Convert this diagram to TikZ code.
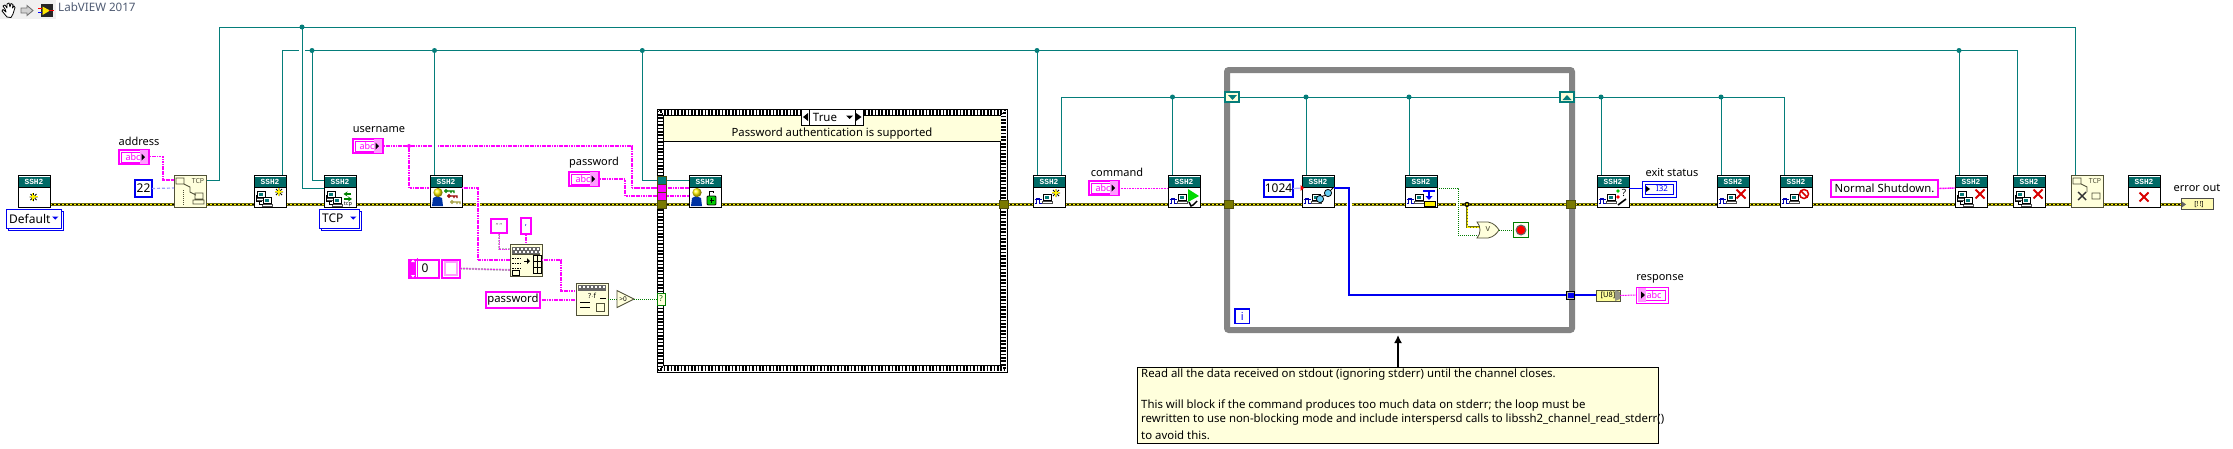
\documentclass[tikz,border=0pt]{standalone}
\usepackage{fontspec}
\setmainfont{Noto Sans}
\newfontfamily\hdrfont{Liberation Mono}
\usetikzlibrary{calc,arrows.meta}
\definecolor{wteal}{HTML}{057D7A}
\definecolor{hteal}{HTML}{006A66}
\definecolor{cream}{HTML}{FFFFDC}
\definecolor{oliv}{HTML}{6E6E10}
\definecolor{tunol}{HTML}{7A7A00}
\definecolor{vbord}{HTML}{505038}
\definecolor{loopg}{HTML}{848484}
\definecolor{mag}{HTML}{FF00FF}
\definecolor{lmag}{HTML}{FF9CFF}
\definecolor{gwire}{HTML}{007D00}
\definecolor{cblue}{HTML}{0000F0}
\definecolor{titlec}{HTML}{4F5B73}
\tikzset{
 tw/.style={draw=wteal,line width=1pt},
 sw/.style={draw=mag,line width=1.4pt,dash pattern=on 1.2pt off .5pt},
 thinsw/.style={draw=mag,line width=1pt,dash pattern=on 1pt off .6pt},
 gw/.style={draw=gwire,line width=.9pt,dash pattern=on 1pt off 1pt},
 bw/.style={draw=cblue,line width=2.2pt},
 errw/.style={draw=oliv,line width=3.6pt,
   postaction={draw=yellow,line width=1.7pt,dash pattern=on 2pt off 2pt,solid},
   postaction={draw=black,line width=1.7pt,dash pattern=on 2pt off 2pt,dash phase=2pt}},
 vibox/.style={draw=black,line width=.9pt,fill=white,minimum width=32pt,minimum height=32pt,inner sep=0,outer sep=0},
 ylbox/.style={draw=vbord,line width=.9pt,fill=cream,minimum width=32pt,minimum height=32pt,inner sep=0,outer sep=0},
 lbl/.style={inner sep=0,font=\fontsize{11}{13}\selectfont,text=black},
 hdr/.style={inner sep=0,text=white,font=\hdrfont\bfseries\fontsize{7.8}{8}\selectfont},
 strbox/.style={draw=mag,line width=2pt,fill=white,inner sep=0,outer sep=0},
 numbox/.style={draw=cblue,line width=2pt,fill=white,inner sep=0,outer sep=0,font=\fontsize{12}{14}\selectfont},
 tun/.style={inner sep=0,outer sep=0,minimum width=9pt,minimum height=8.5pt,draw=oliv!70!black,line width=.5pt},
}
\newcommand\icComp[2]{%
 \fill[white] (#1,#2) rectangle ++(8,6);
 \draw[black,line width=.7pt] (#1,#2) rectangle ++(8,6);
 \fill[wteal] (#1+2,#2+1.5) rectangle ++(4,3);
 \draw[black!70,line width=.7pt] (#1-1,#2+7) rectangle ++(10,2);
}
\newcommand\icNet{\icComp{3}{15}\icComp{9}{21}\draw[black,line width=.6pt] (2,19)--(2,25)--(8,25)(5,25)--(5,28)--(9,28);}
\newcommand\icChan{\draw[blue!70!black,line width=.9pt] (1.5,27)--(3,27)--(3,22)--(6,22)--(6,27)--(9,27)(1.5,23.5)--(9,23.5);
 \icComp{10}{18}}
\newcommand\icStar[2]{\draw[black,line width=.8pt] (#1-4,#2)--(#1+4,#2)(#1,#2-4)--(#1,#2+4)(#1-3,#2-3)--(#1+3,#2+3)(#1-3,#2+3)--(#1+3,#2-3);
 \fill[yellow] (#1,#2) circle (2pt);\draw[yellow,line width=.8pt] (#1-4,#2-1)--(#1+4,#2-1)(#1-1,#2-4)--(#1-1,#2+4);}
\newcommand\icPerson{\fill[blue!55!black!80!cyan] (2,30)--(3,22)--(7,20)--(12,22)--(13,30)--cycle;
 \shade[ball color=yellow!90!orange] (8,16.5) circle (4.6pt);}
\newcommand\icKey[3]{\draw[#3,line width=1.1pt] (#1,#2) circle (1.3pt) (#1+1.5,#2)--(#1+8,#2)--(#1+8,#2+2)(#1+5,#2)--(#1+5,#2+2);}
\newcommand\icRedX[2]{\draw[red!85!black,line width=2pt] (#1-4.5,#2-4.5)--(#1+4.5,#2+4.5)(#1-4.5,#2+4.5)--(#1+4.5,#2-4.5);}
\newcommand\sshvi[3]{%
 \node[vibox] (#1) at (#2+16,191.5) {};
 \fill[hteal] (#2+.5,176.5) rectangle (#2+31.5,187);
 \node[hdr] (#1-h) at (#2+16,181.7) {SSH2};
 \draw[black,line width=.9pt] (#2,187) -- (#2+32,187);
 \begin{scope}[shift={(#2,176)}]#3\end{scope}}
\newcommand\strctl[4]{%
 \node[strbox,minimum width=30pt,minimum height=14pt] (#1) at (#2+16,#3+8) {};
 \draw[mag,line width=.9pt] (#2+3,#3+3) rectangle (#2+29,#3+13);
 \fill[lmag] (#2+22,#3+1) rectangle (#2+30,#3+15);
 \node[inner sep=0,text=mag,font=\fontsize{9}{9}\selectfont\bfseries] at (#2+15,#3+8) {abc};
 \fill[black] (#2+27,#3+8) -- (#2+23.5,#3+4.5) -- (#2+23.5,#3+11.5) -- cycle;}
\newcommand\strind[3]{%
 \node[draw=mag,line width=1pt,fill=white,inner sep=0,outer sep=0,minimum width=32pt,minimum height=16pt] (#1) at (#2+16,#3+8) {};
 \draw[mag,line width=.8pt] (#2+3,#3+3) rectangle (#2+29,#3+13);
 \fill[lmag] (#2+2,#3+1) rectangle (#2+10,#3+15);
 \node[inner sep=0,text=mag,font=\fontsize{9}{9}\selectfont\bfseries] at (#2+18,#3+8) {abc};
 \fill[black] (#2+9,#3+8) -- (#2+5,#3+4.5) -- (#2+5,#3+11.5) -- cycle;}
\newcommand\enumctl[6]{%
 \draw[cblue,line width=1pt,fill=white] (#2+2,#3+2) rectangle (#4+2,#5+2);
 \node[draw=cblue,line width=1pt,fill=white,inner sep=0,outer sep=0,minimum width=#4pt-#2pt,minimum height=#5pt-#3pt,anchor=north west] (#1) at (#2,#3) {};
 \node[inner sep=0,anchor=west,font=\fontsize{12}{14}\selectfont] at (#2+3,#3+9.5) {#6};
 \fill[cblue] (#4-9,#3+7.5) -- (#4-2.5,#3+7.5) -- (#4-5.75,#3+10.5) -- cycle;}
\newcommand\errseg[2]{\draw[errw] (#1 |- ey) -- (#2 |- ey);}
\newcommand\chk[1]{%
 \foreach \d/\p in {1.5/0,3.2/1.7,4.9/0}{%
 \draw[black,line width=1.7pt,dash pattern=on 1.7pt off 1.7pt,dash phase=\p pt]
   ($(#1.north west)+(\d,\d)$) rectangle ($(#1.south east)+(-\d,-\d)$);}}
\begin{document}
\begin{tikzpicture}[x=1pt,y=-1pt]
\useasboundingbox (0,0) rectangle (2233,448);
\fill[white] (0,0) rectangle (2233,448);
\coordinate (ey) at (0,204.4);
%% toolbar
\fill[black!6] (0,0) rectangle (56,19);
\draw[black,line width=.8pt,fill=white,line join=round] (5,9)--(3,6)--(5,5)--(7,8)--(7,4)--(9,3)--(10,7)--(11,3.5)--(13,4.5)--(12.5,8)--(14,6)--(15,7.5)--(13,14)--(11,17.5)--(7,17)--(2,11)--(3,9.5)--(6,12)--cycle;
\draw[black!55,line width=.9pt,fill=black!18] (21,8)--(27,8)--(27,5.5)--(33,10.5)--(27,15.5)--(27,13)--(21,13)--cycle;
\fill[black!85] (41,4) rectangle (53,17);
\fill[yellow!90!orange] (42.5,6.5)--(50,10.5)--(42.5,15)--cycle;
\draw[red,line width=1pt] (38,8)--(42,8)(49,10)--(54,10);
\draw[blue,line width=1pt] (38,12)--(42,12);
\node[inner sep=0,anchor=west,text=titlec,font=\bfseries\fontsize{11.6}{12}\selectfont] (title) at (58,7.5) {LabVIEW 2017};
%% bus coordinates
\coordinate (a0) at (219.5,27);
\coordinate (a1) at (302,27);
\coordinate (a2) at (2075,27);
\coordinate (b0) at (282.5,50.5);
\coordinate (b1) at (312,50.5);
\coordinate (b2) at (434.5,50.5);
\coordinate (b3) at (642.3,50.5);
\coordinate (b4) at (1037,50.5);
\coordinate (b5) at (1959,50.5);
\coordinate (b6) at (2017,50.5);
\coordinate (c0) at (1061,97);
\coordinate (c1) at (1172.5,97);
\coordinate (c2) at (1306,97);
\coordinate (c3) at (1409,97);
\coordinate (c4) at (1601,97);
\coordinate (c5) at (1721,97);
\coordinate (c6) at (1784,97);
\coordinate (mj) at (409,146);
\coordinate (mr) at (632,146);
\coordinate (pw1) at (625,179);
\coordinate (p-tcpo) at (206,180.5);
%% teal wires
\draw[tw] (p-tcpo) -- (a0 |- p-tcpo) -- (a0) -- (a2) -- (2075,176);
\draw[tw] (282.5,176) -- (b0) -- (b6) -- (2017,176);
\draw[white,line width=3pt] (299,50.5) -- (305,50.5);
\draw[tw] (a1) -- (302,188) -- (324,188);
\draw[tw] (b1) -- (312,180.5) -- (324,180.5);
\draw[tw] (b3) -- (642.3,180) -- (689,180);
\draw[tw] (b4) -- (1037,176);
\draw[tw] (b5) -- (1959,176);
\draw[tw] (1061,176) -- (c0) -- (c6) -- (1784,176);
\foreach \c in {c1,c2,c3,c4,c5}{\draw[tw] (\c) -- (\c |- 0,176);}
\foreach \c in {a1,b1,b2,b3,b4,b5,c1,c2,c3,c4,c5}{\fill[wteal] (\c) circle (2.5pt);}
%% username wires
\draw[sw] (mj) -- (mr) -- (632,188) -- (689,188);
\draw[white,line width=3pt] (432,146) -- (437,146);
\draw[tw] (b2) -- (434.5,176);
\draw[sw] (mj) -- (409,188) -- (430,188);
\fill[mag] (mj) circle (2pt);
%% case structure
\node[draw=black,line width=1pt,fill=white,inner sep=0,outer sep=0,minimum width=350pt,minimum height=263pt,anchor=north west] (case) at (657,109) {};
\chk{case}
\fill[white] (663.5,115.5) rectangle (1000.5,365.5);
\draw[black,line width=.8pt] (663.5,115.5) rectangle (1000.5,365.5);
\fill[cream] (663.5,115.5) rectangle (1000.5,141.5);
\draw[black,line width=1pt] (663.5,141.5) -- (1000.5,141.5);
\node[inner sep=0,font=\fontsize{11.3}{14}\selectfont] (caselabel) at (832,134) {Password authentication is supported};
\node[draw=black,line width=1pt,fill=white,inner sep=0,outer sep=0,minimum width=62pt,minimum height=16pt,anchor=north west] (sel) at (801,109) {};
\draw[black,line width=1pt] (809,109) -- (809,125) (855,109) -- (855,125);
\fill[black] (803,117)--(808,113)--(808,121)--cycle (861.5,117)--(856,113)--(856,121)--cycle;
\fill[black] (846,115.5)--(853,115.5)--(849.5,119)--cycle;
\node[inner sep=0,font=\fontsize{11.5}{14}\selectfont] (seltxt) at (825,117.5) {True};
%% loop
\node[draw=loopg,line width=6pt,rounded corners=2pt,inner sep=0,outer sep=0,minimum width=345pt,minimum height=260pt,anchor=north west] (loop) at (1227,70) {};
%% wires in front of structures
\draw[tw] (642.3,180) -- (689,180);
\draw[sw] (632,188) -- (689,188);
\draw[sw] (600,179) -- (pw1) -- (625,196) -- (689,196);
%% error wire segments
\coordinate (e0) at (50,0); \coordinate (e1) at (174,0); \coordinate (e2) at (206,0);
\coordinate (e3) at (254,0); \coordinate (e4) at (286,0); \coordinate (e5) at (324,0);
\coordinate (e6) at (356,0); \coordinate (e7) at (430,0); \coordinate (e8) at (462,0);
\coordinate (e9) at (476,0); \coordinate (e10) at (480,0); \coordinate (e11) at (657,0);
\coordinate (e12) at (665,0); \coordinate (e13) at (689,0); \coordinate (e14) at (721,0);
\coordinate (e15) at (999,0); \coordinate (e16) at (1008,0); \coordinate (e17) at (1033,0);
\coordinate (e18) at (1065,0); \coordinate (e19) at (1168,0); \coordinate (e20) at (1200,0);
\coordinate (e21) at (1224,0); \coordinate (e22) at (1233,0); \coordinate (e23) at (1302,0);
\coordinate (e24) at (1334,0); \coordinate (e25) at (1346.5,0); \coordinate (e26) at (1351.5,0);
\coordinate (e27) at (1405,0); \coordinate (e28) at (1437,0); \coordinate (e29) at (1455.5,0);
\coordinate (e30) at (1460,0); \coordinate (e31) at (1566,0); \coordinate (e32) at (1575,0);
\coordinate (e33) at (1597,0); \coordinate (e34) at (1629,0); \coordinate (e35) at (1717,0);
\coordinate (e36) at (1749,0); \coordinate (e37) at (1780,0); \coordinate (e38) at (1812,0);
\coordinate (e39) at (1955,0); \coordinate (e40) at (1987,0); \coordinate (e41) at (2013,0);
\coordinate (e42) at (2045,0); \coordinate (e43) at (2071,0); \coordinate (e44) at (2103,0);
\coordinate (e45) at (2128,0); \coordinate (e46) at (2160,0); \coordinate (e47) at (2181,0);
\foreach \s/\t in {e0/e1,e2/e3,e4/e5,e6/e7,e8/e9,e10/e11,e12/e13,e14/e15,e16/e17,e18/e19,e20/e21,e22/e23,e24/e25,e26/e27,e28/e29,e30/e31,e32/e33,e34/e35,e36/e37,e38/e39,e40/e41,e42/e43,e44/e45,e46/e47}{\errseg{\s}{\t}}
%% tunnels
\node[tun,fill=wteal,anchor=north west] (t1) at (657,176) {};
\node[tun,fill=mag,anchor=north west] (t2) at (657,184) {};
\node[tun,fill=mag,anchor=north west] (t3) at (657,192) {};
\node[tun,fill=tunol,anchor=north west] (t4) at (657,200) {};
\node[tun,fill=tunol,anchor=north west] (t5) at (999,200) {};
\node[tun,fill=tunol,anchor=north west] (t6) at (1224,200) {};
\node[tun,fill=tunol,anchor=north west] (t7) at (1566,200) {};
\node[draw=gwire,line width=1pt,fill=cream,inner sep=0,outer sep=0,minimum width=8pt,minimum height=12pt,anchor=north west,text=black!60!green,font=\fontsize{8}{8}\selectfont] (qs) at (657,293) {?};
%% shift registers
\node[draw=wteal,line width=2pt,fill=cream,inner sep=0,outer sep=0,minimum width=14pt,minimum height=10pt,anchor=north west] (srl) at (1225,92) {};
\fill[wteal] (1228,95)--(1237,95)--(1232.5,100)--cycle;
\node[draw=wteal,line width=2pt,fill=cream,inner sep=0,outer sep=0,minimum width=14pt,minimum height=10pt,anchor=north west] (srr) at (1560,92) {};
\fill[wteal] (1562.5,100)--(1571.5,100)--(1567,95)--cycle;
\node[draw=cblue,line width=1.8pt,fill=white,inner sep=0,outer sep=0,minimum width=14.5pt,minimum height=14.5pt,anchor=north west,text=cblue,font=\bfseries\fontsize{11}{11}\selectfont] (iter) at (1235,309) {i};
%% VIs
\sshvi{v1}{18}{\icStar{15.5}{21}}
\node[ylbox] (tcpo) at (190,191.5) {};
\node[inner sep=0,font=\fontsize{7}{7}\selectfont\bfseries,text=vbord] (tcpo-t) at (198,180.5) {TCP};
\draw[vbord,line width=.9pt] (176,178) rectangle (184,184) (184,184)--(190,187)--(190,192)--(196,195)(195,193) rectangle (203,199) (193,200) rectangle (204,204);
\draw[vbord,line width=.8pt,dash pattern=on 1pt off 1pt] (183,190)--(183,205);
\sshvi{v3}{254}{\icNet\icStar{25}{16}}
\sshvi{v4}{324}{\icNet
 \draw[green!50!black,line width=1.6pt,-{Stealth[length=4pt,width=5pt]}] (27,18)--(19.5,18);
 \draw[green!50!black,line width=1.6pt,-{Stealth[length=4pt,width=5pt]}] (20,23)--(28,23);
 \node[inner sep=0,font=\fontsize{5.5}{6}\selectfont\bfseries] at (24,28) {tcp};}
\sshvi{v5}{430}{\icPerson\icKey{16}{15}{green!50!black}\icKey{19}{20}{red!60!black}\icKey{22}{26}{yellow!60!black}}
\sshvi{v6}{689}{\icPerson
 \fill[green!80!black] (18,20) rectangle (27,29);\draw[black,line width=.8pt,rounded corners=1pt] (18,20) rectangle (27,29);
 \draw[black,line width=1pt] (20,20)--(20,15)--(24,15)--(24,17);
 \draw[black,line width=.8pt] (22.5,22)--(22.5,27)(20.5,24)--(24.5,24);}
\sshvi{v7}{1033}{\icChan\icStar{23}{17}}
\sshvi{v8}{1168}{\icChan
 \fill[green!85!black] (20,13)--(31,20)--(20,26)--cycle;
 \draw[black,line width=1.4pt] (29,25)--(25,29)(21,26)--(23,30)--(25,29);}
\sshvi{v9}{1302}{\icChan
 \draw[black,line width=.8pt,fill=cyan!60] (18,23) circle (3.6pt) (26,17) circle (3.6pt);
 \draw[black,line width=.8pt] (20.5,20)--(23.5,19.5)(29,14)--(31,12);}
\sshvi{v10}{1405}{\icChan
 \draw[blue,line width=1.1pt] (18,15)--(30,15)(24,15)--(24,21);
 \fill[blue] (20.5,20)--(27.5,20)--(24,24)--cycle;
 \fill[yellow] (19,25) rectangle (30,30);\draw[black,line width=.8pt] (19,25) rectangle (30,30);}
\sshvi{v11}{1597}{\icChan
 \fill[green!80!black] (21,15) circle (1.8pt);\fill[red] (21,21) circle (1.8pt);
 \node[inner sep=0,font=\bfseries\fontsize{10}{10}\selectfont] at (27,17) {?};
 \draw[black,line width=1.6pt] (21,29)--(29,23);}
\sshvi{v12}{1717}{\icChan\icRedX{24}{18}}
\sshvi{v13}{1780}{\icChan\draw[red!85!black,line width=1.5pt] (24,18) circle (4.5pt) (21,15)--(27,21);}
\sshvi{v14}{1955}{\icNet\icRedX{25}{18}}
\sshvi{v15}{2013}{\icNet\icRedX{25}{18}}
\node[ylbox] (tcpc) at (2087,191.5) {};
\node[inner sep=0,font=\fontsize{7}{7}\selectfont\bfseries,text=vbord] (tcpc-t) at (2095,180.5) {TCP};
\draw[vbord,line width=.9pt] (2073,178) rectangle (2081,184) (2081,184)--(2087,187)--(2087,192)(2092,193) rectangle (2100,199);
\draw[black!80,line width=1.4pt] (2078,192)--(2086,200)(2078,200)--(2086,192);
\sshvi{v17}{2128}{\icRedX{16}{21}}
%% controls
\strctl{address}{118}{149}{}
\node[lbl] (address-l) at (139,141) {address};
\draw[sw] (150,156.5) -- (163,156.5) -- (163,180) -- (174,180);
\node[numbox,minimum width=17pt,minimum height=17pt] (n22) at (143.5,188.5) {22};
\draw[blue!40,line width=1.2pt,dash pattern=on 3pt off 2pt] (n22.east) -- (174,188);
\enumctl{defE}{6}{209}{61}{228}{Default}
\enumctl{tcpE}{319}{209}{359}{228}{TCP}
\strctl{username}{352}{138}{}
\node[lbl] (username-l) at (379,130) {username};
\draw[sw] (384,146) -- (mj);
\strctl{password}{568}{171}{}
\node[lbl] (password-l) at (594,163) {password};
%% format into string area
\draw[sw] (462,188) -- (478,188) -- (478,260) -- (510,260);
\draw[sw] (526,235) -- (526,244);
\draw[black!25,line width=1.6pt,dash pattern=on 2pt off 1pt] (499,234) -- (499,249) -- (510,249);
\draw[mag,line width=.5pt,dash pattern=on 1pt off 1pt] (499,234) -- (499,249) -- (510,249);
\node[strbox,minimum width=16pt,minimum height=14pt,text=black!50,font=\fontsize{7}{7}\selectfont] (qc) at (499,226) {"\,"};
\node[strbox,minimum width=10pt,minimum height=16pt,font=\fontsize{8}{8}\selectfont,text=blue] (cm) at (526,226) {,};
\node[strbox,minimum width=30pt,minimum height=18pt,anchor=west] (arr) at (409,268.5) {};
\draw[mag,line width=1pt] (417,258) -- (417,279);
\fill[mag] (410,259) rectangle (416,278);
\fill[white] (411,262)--(415,262)--(413,259.5)--cycle (411,275)--(415,275)--(413,277.5)--cycle;
\node[inner sep=0,font=\fontsize{12}{13}\selectfont] (arr-0) at (425,268.5) {0};
\node[draw=mag,line width=2pt,fill=white,inner sep=0,outer sep=0,minimum width=18pt,minimum height=18pt] (arre) at (451,268.5) {};
\fill[lmag] (444,261) rectangle (458,276);
\fill[white] (446,263) rectangle (456,274);
\draw[black!30,line width=2pt,dash pattern=on 2pt off 1pt] (arre.east) -- (510,270);
\draw[mag,line width=.6pt,dash pattern=on 2pt off 1pt] (arre.east) -- (510,270);
\node[ylbox] (fmt) at (526,260) {};
\fill[black!60] (512,247) rectangle (540,254);
\foreach \i in {0,...,6}{\fill[white] (513+4*\i,248) rectangle ++(2,2);\fill[white] (515+4*\i,251) rectangle ++(2,2);}
\draw[vbord,line width=.5pt] (512,254) -- (540,254);
\foreach \yy in {258,263,268}{\draw[black,line width=.9pt,dash pattern=on 1.5pt off 1pt] (512,\yy) -- (521,\yy);}
\fill[black] (527,258)--(527,264)--(530,261)--cycle; \draw[black,line width=.9pt] (524,261)--(528,261);
\draw[black,line width=.7pt] (533,255) rectangle (541,273) (533,261)--(541,261)(533,267)--(541,267)(537,255)--(537,273);
\draw[black,line width=.7pt] (512,270) rectangle (519,275);
%% search / select
\draw[sw] (542,260) -- (561,260) -- (561,291) -- (576,291);
\node[strbox,minimum width=54pt,minimum height=16pt,font=\fontsize{11.3}{14}\selectfont] (pwc) at (513,300) {password};
\draw[sw] (pwc.east) -- (576,300);
\node[ylbox] (srch) at (592,299) {};
\fill[black!60] (578,285) rectangle (606,291);
\foreach \i in {0,...,6}{\fill[white] (579+4*\i,286) rectangle ++(2,2);}
\node[inner sep=0,font=\fontsize{7}{7}\selectfont] (srch-t) at (592,296) {?$\cdot$f};
\draw[black,line width=.7pt] (580,302)--(590,302)(580,307)--(590,307)(600,298)--(606,298);
\draw[vbord,line width=.8pt] (596,303) rectangle (604,311);
\draw[gw] (608,299) -- (617,299);
\draw[vbord,line width=.9pt,fill=cream] (617,290.5)--(634,299)--(617,307.5)--cycle;
\node[inner sep=0,font=\fontsize{6.5}{7}\selectfont\bfseries] (gt0-t) at (623,299) {>0};
\draw[gw] (634,299) -- (qs.west);
%% channel area
\strctl{command}{1088}{180}{}
\node[lbl] (command-l) at (1117,172) {command};
\draw[thinsw] (command.east) -- (1168,188);
\node[numbox,minimum width=29pt,minimum height=17pt] (n1024) at (1278.5,188.5) {1024};
\draw[blue!30,line width=1.2pt] (n1024.east) -- (1302,188);
\fill[red] (1302,188)++(2,0) -- ++(-3.5,-3) -- ++(0,6) -- cycle;
\draw[bw] (1334,188) -- (1349,188) -- (1349,295) -- (1566,295);
\node[draw=black,line width=.7pt,fill=vbord!40,inner sep=0,outer sep=0,minimum width=8pt,minimum height=8pt,anchor=west] (at) at (1566.5,295) {};
\fill[cblue] (1567.5,292.5) rectangle (1574,297.5);
\draw[bw] (1575,295) -- (1596,295);
\node[draw=vbord,line width=.8pt,fill=cream!70!yellow,inner sep=0,outer sep=0,minimum width=24pt,minimum height=11pt,font=\fontsize{7.5}{8}\selectfont,anchor=west] (u8) at (1596,295.5) {[U8]};
\fill[vbord!60] (1615,290)--(1620,292)--(1620,299)--(1615,301)--cycle;
\strind{response}{1636}{287}
\node[lbl] (response-l) at (1660,279) {response};
\draw[thinsw] (u8.east) -- (response.west);
%% stop logic
\draw[gw] (1437,188) -- (1458,188) -- (1458,235) -- (1480,235);
\draw[draw=oliv,line width=2.4pt] (1467,204.4) -- (1467,227) -- (1480,227);
\draw[yellow,line width=1pt,dash pattern=on 2pt off 1pt] (1467,204.4) -- (1467,227) -- (1480,227);
\fill[black] (1467,204.4) circle (2.6pt); \fill[yellow] (1467,204.4) circle (1.2pt);
\draw[vbord,line width=.8pt,fill=cream] (1477,222)--(1488,222) .. controls (1494,223) and (1497,227) .. (1499,230) .. controls (1497,233) and (1494,237) .. (1488,238)--(1477,238) .. controls (1481,234) and (1481,226) .. (1477,222)--cycle;
\node[inner sep=0,font=\bfseries\fontsize{9}{9}\selectfont,text=vbord] (orv) at (1488,229.5) {v};
\draw[gw] (1499,230) -- (1513,230);
\node[draw=gwire,line width=1pt,fill=cream!30,inner sep=0,outer sep=0,minimum width=15pt,minimum height=15pt,anchor=north west] (stop) at (1513.5,222.5) {};
\fill[black!60] (stop.center) circle (5.5pt);
\fill[red] (stop.center) circle (4.2pt);
%% exit status
\draw[blue,line width=1pt] (1629,188) -- (1642,188);
\node[draw=cblue,line width=1pt,fill=white,inner sep=0,outer sep=0,minimum width=34pt,minimum height=16pt,anchor=west] (ex) at (1642,189) {};
\draw[cblue,line width=.7pt] (1645,184) rectangle (1673,194);
\fill[black] (1650,189)--(1646,186)--(1646,192)--cycle;
\node[inner sep=0,text=cblue,font=\bfseries\fontsize{8}{8}\selectfont] (ex-t) at (1662,189) {I32};
\node[lbl] (ex-l) at (1672,172) {exit status};
%% shutdown
\node[strbox,minimum width=107pt,minimum height=17pt,font=\fontsize{11.3}{14}\selectfont] (ns) at (1884.5,188.5) {Normal Shutdown.};
\draw[sw] (ns.east) -- (1955,188);
%% error out
\node[draw=black!70,line width=1pt,fill=yellow!30,inner sep=0,outer sep=0,minimum width=32pt,minimum height=11pt,anchor=west] (errout) at (2181,204.4) {};
\fill[black!60] (2186,204.4)--(2182,201.5)--(2182,207.3)--cycle;
\node[inner sep=0,font=\bfseries\fontsize{7}{7}\selectfont] (errout-t) at (2199,204.4) {[\textbf{!}\,\textbf{!}]};
\node[lbl] (errout-l) at (2197,188) {error out};
%% comment
\node[draw=black,line width=1pt,fill=cream,inner sep=0,outer sep=0,minimum width=521pt,minimum height=76pt,anchor=north west] (note) at (1137,367) {};
\foreach \yy/\tx in {375/{Read all the data received on stdout (ignoring stderr) until the channel closes.},
 405/{This will block if the command produces too much data on stderr; the loop must be},
 420/{rewritten to use non-blocking mode and include interspersd calls to libssh2\_channel\_read\_stderr()},
 435/{to avoid this.}}{
 \node[inner sep=0,anchor=west,font=\fontsize{11.4}{14}\selectfont] at (1141,\yy) {\tx};}
\coordinate (arrowtip) at (1398,335);
\draw[black,line width=1.8pt,-{Latex[length=8pt,width=8pt]}] (note.north west -| arrowtip) -- (arrowtip);
\end{tikzpicture}
\end{document}
